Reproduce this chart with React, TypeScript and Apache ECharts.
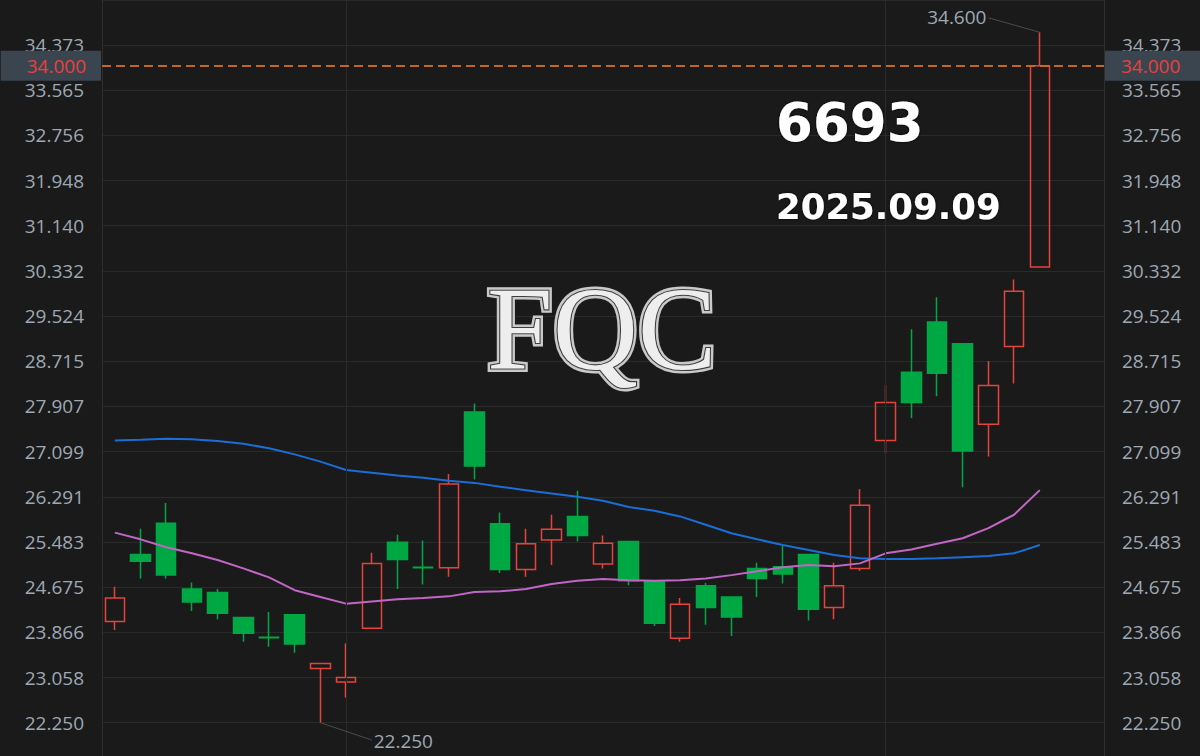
import React, { useEffect, useRef } from 'react';
import * as echarts from 'echarts';

// ---- data ----
const dates = [
  '2025-07-21', '2025-07-22', '2025-07-23', '2025-07-24', '2025-07-25', '2025-07-28', '2025-07-29', '2025-07-30', '2025-07-31',
  '2025-08-01', '2025-08-04', '2025-08-05', '2025-08-06', '2025-08-07', '2025-08-08', '2025-08-11', '2025-08-12', '2025-08-13',
  '2025-08-14', '2025-08-15', '2025-08-18', '2025-08-19', '2025-08-20', '2025-08-21', '2025-08-22', '2025-08-25', '2025-08-26',
  '2025-08-27', '2025-08-28', '2025-08-29',
  '2025-09-01', '2025-09-02', '2025-09-03', '2025-09-04', '2025-09-05', '2025-09-08', '2025-09-09',
];
const opens = [24.06, 25.26, 25.82, 24.64, 24.58, 24.13, 23.78, 24.18, 23.22, 22.98, 23.94, 25.48, 25.03, 25.02, 27.81, 25.81, 24.99, 25.52, 25.94, 25.09, 25.49, 24.79, 23.76, 24.70, 24.50, 25.01, 25.04, 25.26, 24.31, 25.01, 27.30, 28.52, 29.42, 29.03, 27.59, 28.98, 30.40];
const closes = [24.48, 25.14, 24.89, 24.41, 24.21, 23.85, 23.77, 23.66, 23.31, 23.06, 25.10, 25.17, 25.02, 26.52, 26.84, 24.99, 25.45, 25.71, 25.60, 25.46, 24.79, 24.03, 24.37, 24.31, 24.14, 24.83, 24.91, 24.28, 24.70, 26.14, 27.98, 27.98, 28.50, 27.11, 28.28, 29.97, 34.00];
const lows = [23.91, 24.83, 24.83, 24.25, 24.10, 23.70, 23.61, 23.50, 22.25, 22.70, 23.94, 24.64, 24.72, 24.86, 26.60, 24.93, 24.86, 25.07, 25.49, 25.01, 24.71, 23.98, 23.70, 24.00, 23.80, 24.50, 24.74, 24.08, 24.10, 24.97, 27.07, 27.70, 28.09, 26.46, 27.01, 28.32, 30.40];
const highs = [24.68, 25.72, 26.18, 24.76, 24.64, 24.13, 24.23, 24.18, 23.31, 23.67, 25.29, 25.61, 25.51, 26.70, 27.96, 26.01, 25.72, 25.97, 26.40, 25.60, 25.49, 24.79, 24.48, 24.75, 24.50, 25.11, 25.41, 25.26, 25.11, 26.43, 28.29, 29.29, 29.86, 29.03, 28.72, 30.18, 34.60];
const maLong = [27.30, 27.31, 27.33, 27.32, 27.29, 27.24, 27.16, 27.05, 26.92, 26.77, 26.72, 26.67, 26.63, 26.58, 26.54, 26.47, 26.41, 26.35, 26.29, 26.22, 26.11, 26.04, 25.94, 25.79, 25.64, 25.53, 25.43, 25.34, 25.25, 25.19, 25.18, 25.18, 25.19, 25.21, 25.23, 25.28, 25.43];
const maShort = [25.65, 25.53, 25.39, 25.28, 25.16, 25.01, 24.85, 24.62, 24.50, 24.38, 24.42, 24.46, 24.48, 24.51, 24.59, 24.60, 24.64, 24.73, 24.79, 24.82, 24.80, 24.79, 24.80, 24.83, 24.89, 24.96, 25.03, 25.07, 25.05, 25.10, 25.28, 25.35, 25.45, 25.55, 25.73, 25.97, 26.41];
const yTickStart = 22.25;
const yTickStep = 0.808185;
const stockCode = '6693';
const dateLabel = '2025.09.09';
const logoText = 'FQC';

// ---- styles ----
const BG = '#1a1a1a';
const GRID = '#2a2a2a';
const LABEL = '#9ea8b4';
const UP = '#e5443b';
const DOWN = '#00a844';
const FONT = 'Open Sans';

export default function App() {
  const ref = useRef<HTMLDivElement>(null);
  useEffect(() => {
    document.body.style.margin = '0';
    const chart = echarts.init(ref.current!, null, { renderer: 'svg' });

    const ohlc = opens.map((o, i) => [o, closes[i], lows[i], highs[i]]);
    let hiIdx = 0;
    let loIdx = 0;
    highs.forEach((h, i) => { if (h > highs[hiIdx]) hiIdx = i; });
    lows.forEach((l, i) => { if (l < lows[loIdx]) loIdx = i; });
    const last = closes[closes.length - 1];
    const monthStarts = dates.filter((d, i) => i > 0 && d.slice(5, 7) !== dates[i - 1].slice(5, 7));

    const yMin = yTickStart - yTickStep;
    const yMax = 35.178;

    const yAxisBase = (pos: 'left' | 'right') => ({
      type: 'value',
      position: pos,
      min: yMin,
      max: yMax,
      interval: yTickStep,
      axisLine: { show: true, lineStyle: { color: '#2e2e2e', width: 1 } },
      axisTick: { show: false },
      splitLine: { show: pos === 'left', lineStyle: { color: GRID, width: 1 } },
      axisLabel: {
        color: LABEL,
        fontSize: 19,
        fontFamily: FONT,
        margin: 18,
        formatter: (v: number) => (v < yTickStart - 0.05 || v > 34.5 ? '' : v.toFixed(3)),
      },
    });

    const logoStyle = {
      text: logoText, font: 'normal 118px "Liberation Serif"',
      align: 'left', verticalAlign: 'middle', textAlign: 'left', textVerticalAlign: 'middle',
    };

    const option: any = {
      animation: false,
      backgroundColor: BG,
      grid: { left: 102, right: 96, top: 0, bottom: -11.88, outerBoundsMode: 'none', containLabel: false },
      xAxis: {
        type: 'category',
        data: dates,
        max: dates.length + 1,
        boundaryGap: true,
        axisLine: { show: false },
        axisTick: { show: false },
        axisLabel: { show: false },
        splitLine: { show: false },
      },
      yAxis: [yAxisBase('left'), yAxisBase('right')],
      graphic: [
        {
          type: 'text', x: 487, y: 329, z: 1,
          style: { ...logoStyle, fill: '#bdbdbd', stroke: '#c9c9c9', lineWidth: 7 },
        },
        {
          type: 'text', x: 487, y: 329, z: 2,
          style: { ...logoStyle, fill: '#eeeeee', stroke: '#3e3e3e', lineWidth: 2.2 },
        },
        {
          type: 'text', x: 776, y: 122, z: 3,
          style: {
            text: stockCode, font: 'bold 53px "DejaVu Sans"', fill: '#ffffff',
            align: 'left', verticalAlign: 'middle', textAlign: 'left', textVerticalAlign: 'middle',
            textShadowColor: 'rgba(0,0,0,0.8)', textShadowBlur: 3,
          },
        },
        {
          type: 'text', x: 776, y: 206, z: 3,
          style: {
            text: dateLabel, font: 'bold 35.5px "DejaVu Sans"', fill: '#ffffff',
            align: 'left', verticalAlign: 'middle', textAlign: 'left', textVerticalAlign: 'middle',
            textShadowColor: 'rgba(0,0,0,0.8)', textShadowBlur: 3,
          },
        },
      ],
      series: [
        {
          type: 'line',
          data: [],
          z: 1,
          silent: true,
          markLine: {
            silent: true,
            symbol: ['none', 'none'],
            label: { show: false },
            lineStyle: { color: GRID, width: 1, type: 'solid' },
            data: monthStarts.map((d) => ({ xAxis: d })),
          },
        },
        {
          type: 'candlestick',
          data: ohlc,
          barWidth: 20,
          z: 2,
          itemStyle: {
            color: 'transparent',
            color0: DOWN,
            borderColor: UP,
            borderColor0: DOWN,
            borderWidth: 1.5,
          },
          markLine: {
            silent: true,
            symbol: ['none', 'none'],
            data: [
              {
                yAxis: last,
                lineStyle: { color: '#d2691e', width: 1.5, type: [9, 5] },
                label: {
                  show: true, position: 'start', distance: 1, formatter: last.toFixed(3),
                  color: '#e8413c', fontSize: 19, fontFamily: FONT, lineHeight: 20,
                  backgroundColor: '#3b454f', padding: [5, 15, 5, 26],
                },
              },
              {
                yAxis: last,
                lineStyle: { color: '#d2691e', width: 1.5, type: [9, 5] },
                label: {
                  show: true, position: 'end', distance: 1, formatter: last.toFixed(3),
                  color: '#e8413c', fontSize: 19, fontFamily: FONT, lineHeight: 20,
                  backgroundColor: '#3b454f', padding: [5, 30, 5, 16],
                },
              },
              [
                { coord: [dates[hiIdx], highs[hiIdx]] },
                {
                  coord: [dates[hiIdx - 2], highs[hiIdx] + 0.26],
                  lineStyle: { color: '#4c4c4c', width: 1, type: 'solid' },
                  label: {
                    show: true, position: 'end', distance: 2, formatter: highs[hiIdx].toFixed(3),
                    color: LABEL, fontSize: 19, fontFamily: FONT,
                  },
                },
              ],
              [
                { coord: [dates[loIdx], lows[loIdx]] },
                {
                  coord: [dates[loIdx + 2], lows[loIdx] - 0.31],
                  lineStyle: { color: '#4c4c4c', width: 1, type: 'solid' },
                  label: {
                    show: true, position: 'end', distance: 2, formatter: lows[loIdx].toFixed(3),
                    color: LABEL, fontSize: 19, fontFamily: FONT,
                  },
                },
              ],
            ],
          },
        },
        {
          type: 'line',
          data: maLong,
          showSymbol: false,
          symbol: 'none',
          z: 3,
          lineStyle: { color: '#1a6ed8', width: 2 },
        },
        {
          type: 'line',
          data: maShort,
          showSymbol: false,
          symbol: 'none',
          z: 3,
          lineStyle: { color: '#c266c6', width: 2 },
        },
      ],
    };

    chart.setOption(option);
    return () => chart.dispose();
  }, []);

  return <div ref={ref} style={{ width: 1200, height: 756, position: 'absolute', left: 0, top: 0 }} />;
}
